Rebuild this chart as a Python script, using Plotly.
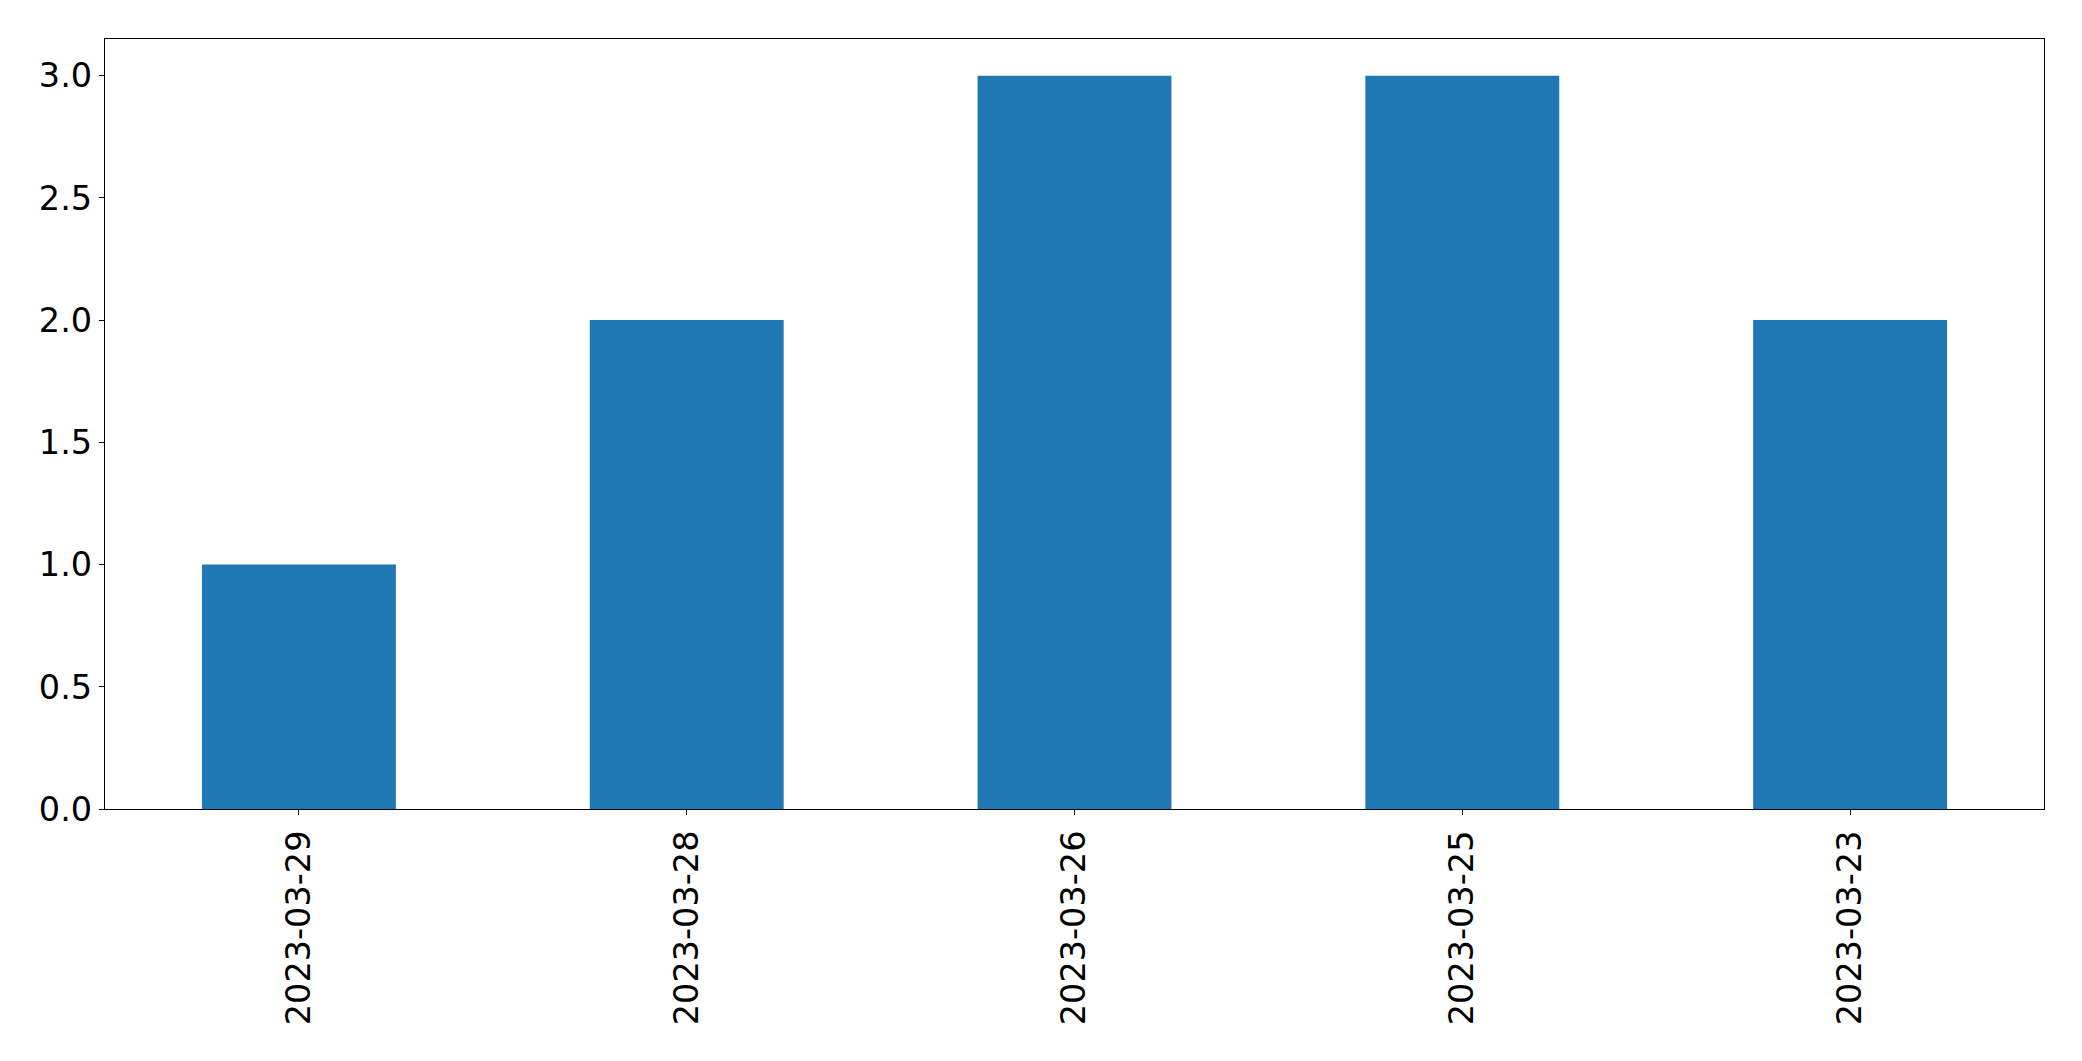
import plotly.graph_objects as go

dates = ["2023-03-29", "2023-03-28", "2023-03-26", "2023-03-25", "2023-03-23"]
counts = [1, 2, 3, 3, 2]
y_ticks = [0.0, 0.5, 1.0, 1.5, 2.0, 2.5, 3.0]
y_tick_labels = ["0.0", "0.5", "1.0", "1.5", "2.0", "2.5", "3.0"]

fig = go.Figure(go.Bar(x=dates, y=counts, marker_color="#1f77b4",
                       marker_line_width=0, width=0.5))

font = dict(family="DejaVu Sans", size=33.5, color="black")
fig.update_layout(
    width=2066, height=1045,
    margin=dict(l=97, r=30, t=31, b=244),
    paper_bgcolor="white", plot_bgcolor="white",
    showlegend=False, bargap=0.5,
    font=font,
)
fig.update_xaxes(type="category", range=[-0.5, 4.5], tickangle=-90,
                 showline=True, linecolor="black", linewidth=1.3, mirror=True,
                 ticks="outside", ticklen=5, tickcolor="black", tickwidth=1.3,
                 showgrid=False, zeroline=False, tickfont=font,
                 ticklabelstandoff=2)
fig.update_yaxes(range=[0, 3.15], tickvals=y_ticks, ticktext=y_tick_labels,
                 showline=True, linecolor="black", linewidth=1.3, mirror=True,
                 ticks="outside", ticklen=5, tickcolor="black", tickwidth=1.3,
                 showgrid=False, zeroline=False, tickfont=font,
                 ticklabelstandoff=0)
fig.write_html("out.html")
